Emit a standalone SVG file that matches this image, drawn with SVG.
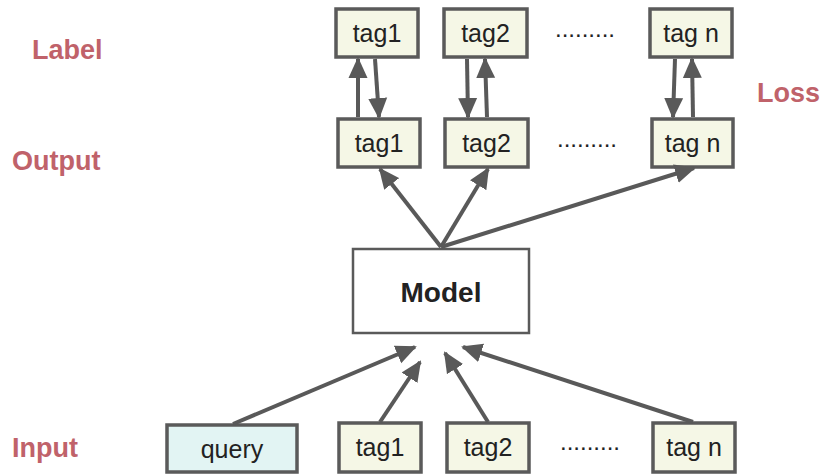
<svg xmlns="http://www.w3.org/2000/svg" width="828" height="475" viewBox="0 0 828 475">
<style>
.tag{fill:#f5f7e6;stroke:#5a5a5a;stroke-width:3.5}
.q{fill:#e2f4f3;stroke:#5a5a5a;stroke-width:3.5}
.mdl{fill:#ffffff;stroke:#5a5a5a;stroke-width:2.5}
.t{font-family:"Liberation Sans",Arial,sans-serif;font-size:25px;fill:#222;text-anchor:middle}
.m{font-family:"Liberation Sans",Arial,sans-serif;font-size:28px;font-weight:bold;fill:#222;text-anchor:middle}
.lb{font-family:"Liberation Sans",Arial,sans-serif;font-size:27px;font-weight:bold;fill:#c0626a}
.dots{font-family:"Liberation Sans",Arial,sans-serif;font-size:24px;fill:#222}
.c{stroke:#595959;stroke-width:4;fill:none;marker-end:url(#ah)}
</style>
<defs>
<marker id="ah" markerUnits="userSpaceOnUse" markerWidth="21" markerHeight="20" refX="19" refY="9.5" orient="auto" viewBox="0 0 21 19">
<path d="M0,0 L21,9.5 L0,19 z" fill="#595959"/>
</marker>
</defs>
<g id="side-labels">
<text class="lb" x="32" y="59">Label</text>
<text class="lb" x="12" y="170">Output</text>
<text class="lb" x="757" y="102">Loss</text>
<text class="lb" x="12" y="457">Input</text>
</g>
<g id="label-tag1"><rect class="tag" x="336" y="9" width="82" height="48"/><text class="t" x="377" y="42">tag1</text></g>
<g id="label-tag2"><rect class="tag" x="444" y="9" width="83" height="48"/><text class="t" x="485.5" y="42">tag2</text></g>
<g id="label-dots"><text class="dots" x="555" y="37">.........</text></g>
<g id="label-tagn"><rect class="tag" x="650" y="9" width="82" height="48"/><text class="t" x="691" y="42">tag n</text></g>
<g id="output-tag1"><rect class="tag" x="338" y="119" width="82" height="48"/><text class="t" x="379" y="152">tag1</text></g>
<g id="output-tag2"><rect class="tag" x="445" y="119" width="83" height="48"/><text class="t" x="486.5" y="152">tag2</text></g>
<g id="output-dots"><text class="dots" x="557" y="147">.........</text></g>
<g id="output-tagn"><rect class="tag" x="652" y="119" width="81" height="48"/><text class="t" x="692.5" y="152">tag n</text></g>
<g id="model"><rect class="mdl" x="353" y="249" width="176" height="84"/><text class="m" x="441" y="302">Model</text></g>
<g id="input-query"><rect class="q" x="167" y="425" width="130" height="47"/><text class="t" x="232" y="458">query</text></g>
<g id="input-tag1"><rect class="tag" x="339" y="423" width="82" height="49"/><text class="t" x="380" y="456">tag1</text></g>
<g id="input-tag2"><rect class="tag" x="447" y="423" width="82" height="49"/><text class="t" x="488" y="456">tag2</text></g>
<g id="input-dots"><text class="dots" x="560" y="450">.........</text></g>
<g id="input-tagn"><rect class="tag" x="653" y="423" width="82" height="49"/><text class="t" x="694" y="456">tag n</text></g>
<g id="connectors">
<line class="c" x1="358" y1="117" x2="358" y2="59"/>
<line class="c" x1="375" y1="59" x2="379" y2="117"/>
<line class="c" x1="467" y1="59" x2="468" y2="117"/>
<line class="c" x1="487" y1="117" x2="485" y2="59"/>
<line class="c" x1="675" y1="59" x2="673" y2="117"/>
<line class="c" x1="693" y1="117" x2="692" y2="59"/>
<line class="c" x1="441" y1="247" x2="380" y2="169"/>
<line class="c" x1="441" y1="247" x2="488" y2="169"/>
<line class="c" x1="441" y1="247" x2="694" y2="168"/>
<line class="c" x1="233" y1="424" x2="415" y2="347"/>
<line class="c" x1="380" y1="422" x2="420" y2="362"/>
<line class="c" x1="488" y1="422" x2="445" y2="353"/>
<line class="c" x1="693" y1="422" x2="463" y2="347"/>
</g>
</svg>
